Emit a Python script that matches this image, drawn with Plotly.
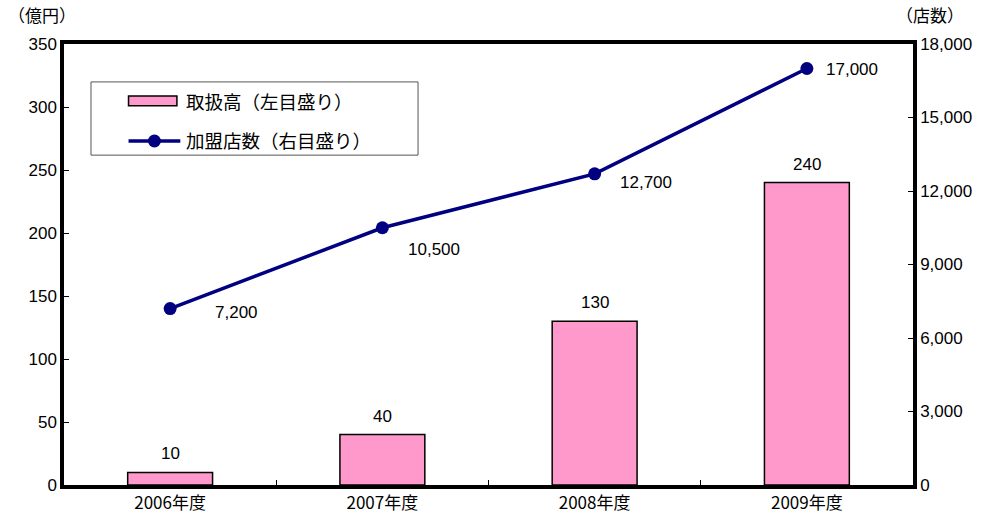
import plotly.graph_objects as go

categories = ["2006年度", "2007年度", "2008年度", "2009年度"]
amount = [10, 40, 130, 240]          # 取扱高（億円）
stores = [7200, 10500, 12700, 17000]  # 加盟店数（店）
left_ticks = [0, 50, 100, 150, 200, 250, 300, 350]
right_ticks = [0, 3000, 6000, 9000, 12000, 15000, 18000]
bar_name = "取扱高（左目盛り）"
line_name = "加盟店数（右目盛り）"

NUM_FONT = "Liberation Sans, Arial, sans-serif"
JP_FONT = "Noto Sans CJK JP, sans-serif"
PINK = "#FF99CC"
NAVY = "#000080"

fig = go.Figure()
fig.add_trace(go.Bar(
    x=categories, y=amount, name=bar_name,
    marker=dict(color=PINK, line=dict(color="black", width=1.5)),
    width=0.4, showlegend=False,
))
fig.add_trace(go.Scatter(
    x=categories, y=stores, name=line_name, yaxis="y2",
    mode="lines+markers",
    line=dict(color=NAVY, width=3.5),
    marker=dict(color=NAVY, size=13),
    showlegend=False,
))

# bar value labels
for c, v in zip(categories, amount):
    fig.add_annotation(x=c, y=v, text=str(v), showarrow=False,
                       yanchor="bottom", yshift=7,
                       font=dict(family=NUM_FONT, size=17, color="black"))

# line value labels
label_shift = [(66, -4), (52, -22), (51, -9), (45, -1)]
for c, v, (dx, dy) in zip(categories, stores, label_shift):
    fig.add_annotation(x=c, y=v, yref="y2", text=f"{v:,}", showarrow=False,
                       xshift=dx, yshift=dy,
                       font=dict(family=NUM_FONT, size=17, color="black"))

# axis unit titles
fig.add_annotation(xref="paper", yref="paper", x=-0.068, y=1.066, xanchor="left",
                   yanchor="middle", text="（億円）", showarrow=False,
                   font=dict(family=JP_FONT, size=17, color="black"))
fig.add_annotation(xref="paper", yref="paper", x=0.978, y=1.066, xanchor="left",
                   yanchor="middle", text="（店数）", showarrow=False,
                   font=dict(family=JP_FONT, size=17, color="black"))

# custom legend (box, swatches, texts)
lx0, lx1, ly0, ly1 = 0.0318, 0.417, 0.748, 0.914
fig.add_shape(type="rect", xref="paper", yref="paper", x0=lx0, x1=lx1, y0=ly0, y1=ly1,
              line=dict(color="#555555", width=1), fillcolor="white", layer="above")
sx0, sx1 = 0.076, 0.133
fig.add_shape(type="rect", xref="paper", yref="paper", x0=sx0, x1=sx1, y0=0.86, y1=0.882,
              line=dict(color="black", width=1.5), fillcolor=PINK, layer="above")
fig.add_shape(type="line", xref="paper", yref="paper", x0=sx0, x1=0.137, y0=0.78, y1=0.78,
              line=dict(color=NAVY, width=3.5), layer="above")
fig.add_shape(type="circle", xref="paper", yref="paper", xsizemode="pixel", ysizemode="pixel",
              xanchor=(sx0 + 0.137) / 2, yanchor=0.78, x0=-6.5, x1=6.5, y0=-6.5, y1=6.5,
              line=dict(color=NAVY, width=0), fillcolor=NAVY, layer="above")
fig.add_annotation(xref="paper", yref="paper", x=0.141, y=0.871, xanchor="left",
                   yanchor="middle", text=bar_name, showarrow=False,
                   font=dict(family=JP_FONT, size=18.5, color="black"))
fig.add_annotation(xref="paper", yref="paper", x=0.141, y=0.782, xanchor="left",
                   yanchor="middle", text=line_name, showarrow=False,
                   font=dict(family=JP_FONT, size=18.5, color="black"))

fig.update_layout(
    width=982, height=523,
    margin=dict(l=64, r=69, t=44, b=38, autoexpand=False),
    plot_bgcolor="white", paper_bgcolor="white",
    showlegend=False,
    xaxis=dict(
        showline=True, linecolor="black", linewidth=3.5, mirror=True,
        ticks="inside", ticklen=5, tickcolor="black", tickson="boundaries",
        tickfont=dict(family=JP_FONT, size=17, color="black"),
        showgrid=False, automargin=False,
    ),
    yaxis=dict(
        range=[0, 350], tickvals=left_ticks, showline=True, linecolor="black", linewidth=3.5,
        ticks="inside", ticklen=5, tickcolor="black",
        tickfont=dict(family=NUM_FONT, size=17, color="black"),
        showgrid=False, zeroline=False, automargin=False,
    ),
    yaxis2=dict(
        range=[0, 18000], tickvals=right_ticks,
        ticktext=[f"{t:,}" for t in right_ticks],
        overlaying="y", side="right", showline=True, linecolor="black", linewidth=3.5,
        ticks="inside", ticklen=5, tickcolor="black",
        tickfont=dict(family=NUM_FONT, size=17, color="black"),
        showgrid=False, zeroline=False, automargin=False,
    ),
)

fig.write_html("out.html", config={"displayModeBar": False},
               post_script="document.body.style.margin='0';document.body.style.overflow='hidden';")
